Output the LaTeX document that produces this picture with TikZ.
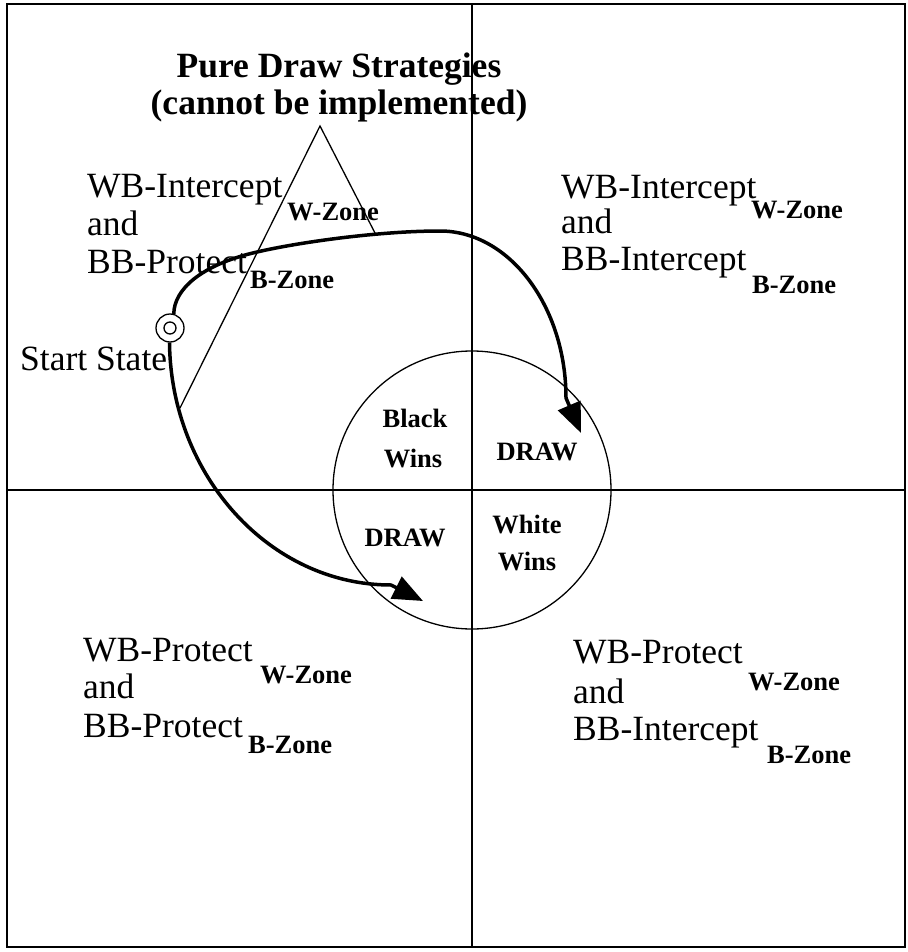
\documentclass[tikz,border=0pt]{standalone}
\usepackage{fontspec}
\setmainfont{Liberation Serif}
\usetikzlibrary{arrows.meta}
\begin{document}
\begin{tikzpicture}[x=1pt,y=-1pt,
  big/.style={font=\fontsize{35.5}{38}\selectfont, inner sep=0pt, anchor=base west},
  sub/.style={font=\fontsize{26.5}{28}\selectfont\bfseries, inner sep=0pt, anchor=base west},
  lab/.style={font=\fontsize{26.5}{28}\selectfont\bfseries, inner sep=0pt, anchor=base},
  ttl/.style={font=\fontsize{35.5}{38}\selectfont\bfseries, inner sep=0pt, anchor=base},
  thinline/.style={line width=1.3pt},
  quad/.style={line width=1.5pt},
  trail/.style={line width=3.5pt, -{Triangle[length=30pt,width=24pt]}}
]
\useasboundingbox (0,0) rectangle (907,952);
\draw[line width=2pt] (7,4) rectangle (905,947);
% quadrant axes
\coordinate (vt) at (472,4); \coordinate (vb) at (472,947);
\coordinate (hl) at (7,490); \coordinate (hr) at (905,490);
\draw[quad] (vt) -- (vb);
\draw[quad] (hl) -- (hr);
% central circle
\node[draw, circle, thinline, minimum size=278pt, inner sep=0pt] (core) at (472,490) {};
\node[lab] (bw1) at (415,427) {Black};
\node[lab] (bw2) at (413,467) {Wins};
\node[lab] (dr1) at (537,460) {DRAW};
\node[lab] (dr2) at (405,546) {DRAW};
\node[lab] (ww1) at (527,533) {White};
\node[lab] (ww2) at (527,570) {Wins};
% title
\node[ttl] (t1) at (339,78) {Pure Draw Strategies};
\node[ttl] (t2) at (339,115) {(cannot be implemented)};
% upper left
\node[big] (ul1) at (87,197) {WB-Intercept};
\node[big] (ul2) at (87,235) {and};
\node[big] (ul3) at (87,273) {BB-Protect};
\node[sub] (ulw) at (287,220) {W-Zone};
\node[sub] (ulb) at (250,288) {B-Zone};
% upper right
\node[big] (ur1) at (561,198) {WB-Intercept};
\node[big] (ur2) at (561,233) {and};
\node[big] (ur3) at (561,270) {BB-Intercept};
\node[sub] (urw) at (751,218) {W-Zone};
\node[sub] (urb) at (752,293) {B-Zone};
% lower left
\node[big] (ll1) at (83,661) {WB-Protect};
\node[big] (ll2) at (83,698) {and};
\node[big] (ll3) at (83,737) {BB-Protect};
\node[sub] (llw) at (260,683) {W-Zone};
\node[sub] (llb) at (248,753) {B-Zone};
% lower right
\node[big] (lr1) at (573,663) {WB-Protect};
\node[big] (lr2) at (573,703) {and};
\node[big] (lr3) at (573,740) {BB-Intercept};
\node[sub] (lrw) at (748,690) {W-Zone};
\node[sub] (lrb) at (767,763) {B-Zone};
% start state
\node[draw, circle, thinline, minimum size=28pt, inner sep=0pt] (start) at (170,328) {};
\node[draw, circle, thinline, minimum size=12pt, inner sep=0pt] (startin) at (start) {};
\node[big] (stl) at (20,370) {Start State};
% trajectories
\coordinate (tipA) at (581,433);
\coordinate (tipB) at (423,601);
\draw[trail] (start.75) .. controls (174,290) and (200,265) .. (257,252)
  .. controls (300,242) and (380,231) .. (440,231)
  .. controls (509.6,231) and (566,306.7) .. (566,398) -- (tipA);
\draw[trail] (start.268) .. controls (171,476) and (270,585) .. (391,585) -- (tipB);
% pure draw strategies wedge
\coordinate (apex) at (320,126);
\coordinate (legL) at (180,408);
\coordinate (legR) at (375,233);
\draw[thinline] (legL) -- (apex) -- (legR);
\end{tikzpicture}
\end{document}
